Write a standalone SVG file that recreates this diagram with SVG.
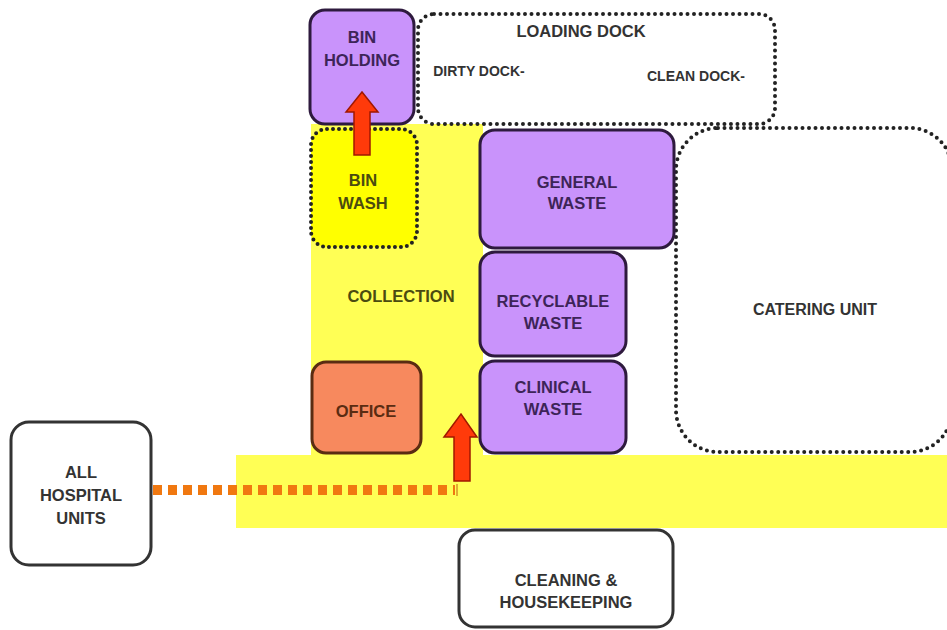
<svg xmlns="http://www.w3.org/2000/svg" width="947" height="630" viewBox="0 0 947 630">
<defs>
<style>
.t{font-family:"Liberation Sans",Arial,sans-serif;font-weight:bold;font-size:16.5px;text-anchor:middle}
.d{font-family:"Liberation Sans",Arial,sans-serif;font-weight:600;font-size:14px;text-anchor:middle;fill:#333}
.purple rect{fill:#c993fb;stroke:#2e1a3e;stroke-width:3}
.purple text{fill:#3d2458}
.dotted{fill:#fff;stroke:#222;stroke-width:4;stroke-dasharray:0 6.5;stroke-linecap:round}
.plain{fill:#fff;stroke:#333;stroke-width:3}
.arrow{fill:#ff3a0a;stroke:#a01800;stroke-width:1.5}
</style>
</defs>
<rect width="947" height="630" fill="#fff"/>
<g id="collection-area">
<rect x="311" y="124" width="172" height="336" fill="#ffff55"/>
<rect x="236" y="455" width="711" height="73" fill="#ffff55"/>
<text class="t" x="401" y="302" fill="#4b4b10">COLLECTION</text>
</g>
<g id="loading-dock">
<rect class="dotted" x="418" y="14" width="357" height="110" rx="16"/>
<text class="d" x="581" y="37" style="font-size:16.5px">LOADING DOCK</text>
<text class="d" x="479" y="76">DIRTY DOCK-</text>
<text class="d" x="696" y="81">CLEAN DOCK-</text>
</g>
<g id="catering-unit">
<rect class="dotted" x="676" y="128" width="276" height="324" rx="42"/>
<text class="d" x="815" y="315" style="font-size:16px">CATERING UNIT</text>
</g>
<g id="bin-holding" class="purple">
<rect x="310" y="10" width="104" height="114" rx="15"/>
<text class="t" x="362" y="43">BIN</text>
<text class="t" x="362" y="66">HOLDING</text>
</g>
<g id="bin-wash">
<rect x="311" y="129" width="106" height="118" rx="16" fill="#ffff00" stroke="#222" stroke-width="4" stroke-dasharray="0 6" stroke-linecap="round"/>
<text class="t" x="363" y="186" fill="#4b4b10">BIN</text>
<text class="t" x="363" y="209" fill="#4b4b10">WASH</text>
</g>
<g id="general-waste" class="purple">
<rect x="480" y="130" width="194" height="118" rx="15"/>
<text class="t" x="577" y="188">GENERAL</text>
<text class="t" x="577" y="209">WASTE</text>
</g>
<g id="recyclable-waste" class="purple">
<rect x="480" y="252" width="146" height="104" rx="15"/>
<text class="t" x="553" y="307">RECYCLABLE</text>
<text class="t" x="553" y="329">WASTE</text>
</g>
<g id="clinical-waste" class="purple">
<rect x="480" y="361" width="146" height="92" rx="15"/>
<text class="t" x="553" y="393">CLINICAL</text>
<text class="t" x="553" y="415">WASTE</text>
</g>
<g id="office">
<rect x="312" y="362" width="109" height="91" rx="14" fill="#f7895e" stroke="#5a2c12" stroke-width="3"/>
<text class="t" x="366" y="417" fill="#5a2c12">OFFICE</text>
</g>
<g id="all-hospital-units">
<rect class="plain" x="11" y="422" width="140" height="143" rx="18"/>
<text class="t" x="81" y="478" fill="#333">ALL</text>
<text class="t" x="81" y="501" fill="#333">HOSPITAL</text>
<text class="t" x="81" y="524" fill="#333">UNITS</text>
</g>
<g id="cleaning-housekeeping">
<rect class="plain" x="459" y="530" width="214" height="97" rx="16"/>
<text class="t" x="566" y="586" fill="#333">CLEANING &amp;</text>
<text class="t" x="566" y="608" fill="#333">HOUSEKEEPING</text>
</g>
<g id="connectors">
<line x1="153" y1="490" x2="455" y2="490" stroke="#f07810" stroke-width="10" stroke-dasharray="9 6"/>
<line x1="457" y1="484" x2="457" y2="496" stroke="#c06010" stroke-width="1"/>
<polygon class="arrow" points="354,155 370,155 370,112 378,112 362,92 346,112 354,112"/>
<polygon class="arrow" points="454,481 470,481 470,437 477,437 461,414 444,437 454,437"/>
</g>
</svg>
